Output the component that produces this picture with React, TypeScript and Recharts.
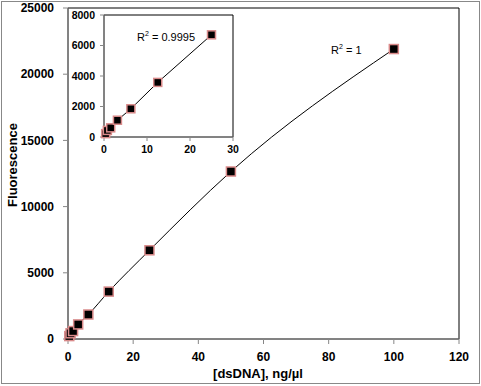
import { ComposedChart, Line, XAxis, YAxis, ReferenceArea } from 'recharts';

// dsDNA standard curve (ng/µl vs fluorescence)
const concentrations = [0.39, 0.78, 1.56, 3.125, 6.25, 12.5, 25, 50, 100];
const fluorescence = [220, 430, 600, 1100, 1850, 3580, 6700, 12650, 21900];
const insetCount = 7; // points up to 25 ng/µl shown in the inset

const mainXTicks = [0, 20, 40, 60, 80, 100, 120];
const mainYTicks = [0, 5000, 10000, 15000, 20000, 25000];
const insetXTicks = [0, 10, 20, 30];
const insetYTicks = [0, 2000, 4000, 6000, 8000];

const mainData = concentrations.map((x, i) => ({ x, y: fluorescence[i] }));
const insetData = mainData.slice(0, insetCount);

const AXIS_GREY = '#868686';
const FONT = '"Liberation Sans", Arial, sans-serif';

function Square(props: any) {
  const { cx, cy, size } = props;
  if (cx == null || cy == null) return null;
  return (
    <rect
      x={cx - size / 2}
      y={cy - size / 2}
      width={size}
      height={size}
      fill="#000"
      stroke="#d98a8a"
      strokeWidth={1.5}
    />
  );
}

export default function App() {
  const tickMain = { fontSize: 12, fontWeight: 'bold', fill: '#000', fontFamily: FONT };
  const tickInset = { fontSize: 10.5, fontWeight: 'bold', fill: '#000', fontFamily: FONT };

  return (
    <div style={{ position: 'relative', width: 481, height: 386, background: '#fff', fontFamily: FONT }}>
      <style>{'body{margin:0}'}</style>
      {/* outer frame */}
      <div
        style={{
          position: 'absolute',
          left: 1,
          top: 1,
          width: 477,
          height: 381,
          border: '1px solid #888',
        }}
      />

      <div style={{ position: 'absolute', left: 0, top: 0 }}>
        <ComposedChart width={481} height={386} data={mainData} margin={{ top: 8, right: 22, left: 0, bottom: 7 }}>
          <ReferenceArea x1={0} x2={120} y1={0} y2={25000} fill="none" stroke="#000" strokeWidth={1} />
          <XAxis
            type="number"
            dataKey="x"
            domain={[0, 120]}
            ticks={mainXTicks}
            interval={0}
            height={40}
            tickSize={5}
            tickMargin={8}
            stroke={AXIS_GREY}
            tick={tickMain}
          />
          <YAxis
            type="number"
            domain={[0, 25000]}
            ticks={mainYTicks}
            interval={0}
            width={68}
            tickSize={5}
            tickMargin={9}
            stroke={AXIS_GREY}
            tick={tickMain}
          />
          <Line
            type="monotone"
            dataKey="y"
            stroke="#000"
            strokeWidth={1}
            isAnimationActive={false}
            dot={(p: any) => <Square key={p.index} {...p} size={9} />}
            activeDot={false}
          />
        </ComposedChart>
      </div>

      {/* inset: low-concentration range */}
      <div style={{ position: 'absolute', left: 60, top: 5 }}>
        <ComposedChart width={185} height={155} data={insetData} margin={{ top: 10, right: 12, left: 0, bottom: 0 }}>
          <ReferenceArea x1={0} x2={30} y1={0} y2={8000} fill="#fff" stroke="#000" strokeWidth={1} />
          <XAxis
            type="number"
            dataKey="x"
            domain={[0, 30]}
            ticks={insetXTicks}
            interval={0}
            height={23}
            tickSize={4}
            tickMargin={5}
            stroke={AXIS_GREY}
            tick={tickInset}
          />
          <YAxis
            type="number"
            domain={[0, 8000]}
            ticks={insetYTicks}
            interval={0}
            width={44}
            tickSize={4}
            tickMargin={5}
            stroke={AXIS_GREY}
            tick={tickInset}
          />
          <Line
            type="linear"
            dataKey="y"
            stroke="#000"
            strokeWidth={1}
            isAnimationActive={false}
            dot={(p: any) => <Square key={p.index} {...p} size={8} />}
            activeDot={false}
          />
        </ComposedChart>
      </div>

      {/* axis titles */}
      <div
        style={{
          position: 'absolute',
          left: 12,
          top: 165,
          transform: 'translate(-50%, -50%) rotate(-90deg)',
          fontSize: 13,
          fontWeight: 'bold',
          whiteSpace: 'nowrap',
        }}
      >
        Fluorescence
      </div>
      <div
        style={{
          position: 'absolute',
          left: 258,
          top: 373,
          transform: 'translate(-50%, -50%)',
          fontSize: 13,
          fontWeight: 'bold',
          whiteSpace: 'nowrap',
        }}
      >
        [dsDNA], ng/µl
      </div>

      {/* R² annotations */}
      <div style={{ position: 'absolute', left: 137, top: 27, fontSize: 11, lineHeight: '14px', whiteSpace: 'nowrap' }}>
        R<sup style={{ fontSize: 7 }}>2</sup> = 0.9995
      </div>
      <div style={{ position: 'absolute', left: 331, top: 40, fontSize: 11, lineHeight: '14px', whiteSpace: 'nowrap' }}>
        R<sup style={{ fontSize: 7 }}>2</sup> = 1
      </div>
    </div>
  );
}
